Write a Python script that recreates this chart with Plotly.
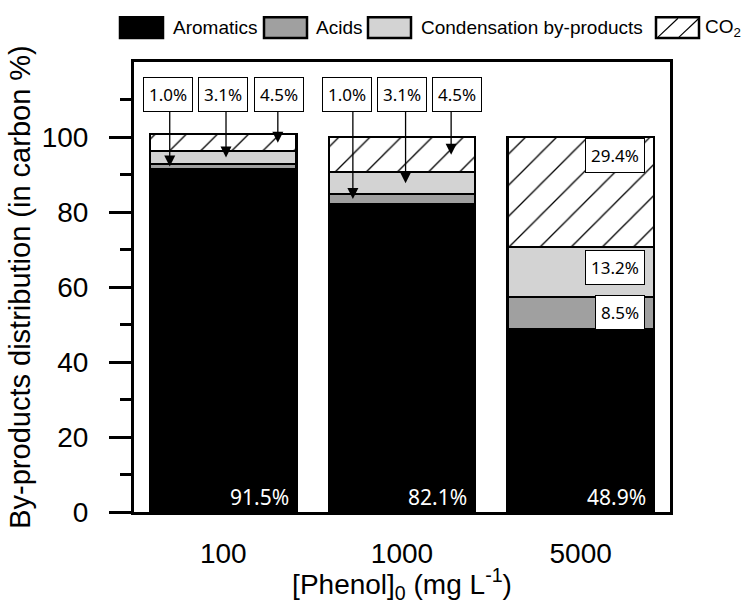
import plotly.graph_objects as go

categories = ["100", "1000", "5000"]
aromatics = [91.5, 82.1, 48.9]
acids = [1.3, 2.7, 8.5]
condensation = [3.5, 5.8, 13.2]
co2 = [4.4, 9.4, 29.4]

aromatic_labels = ["91.5%", "82.1%", "48.9%"]
top_labels = [["1.0%", "3.1%", "4.5%"], ["1.0%", "3.1%", "4.5%"]]
inner_labels_5000 = ["8.5%", "13.2%", "29.4%"]

series_names = ["Aromatics", "Acids", "Condensation by-products", "CO<sub>2</sub>"]
series_colors = ["#000000", "#a0a0a0", "#d3d3d3", "#ffffff"]

L, T, W, H = 134, 62, 536, 452
FIG_W, FIG_H = 747, 604
BAR_W = 0.82
AX_FONT = "Liberation Sans, Arial, sans-serif"
LBL_FONT = "Noto Sans, sans-serif"


def px_x(px):
    return (px - L) / W


def px_y(py):
    return (T + H - py) / H


xpos = list(range(len(categories)))

fig = go.Figure()
series = [aromatics, acids, condensation, co2]
for i, (name, vals, col) in enumerate(zip(series_names, series, series_colors)):
    marker = dict(color=col, line=dict(color="black", width=2.2))
    if i == 3:
        marker["pattern"] = dict(shape="/", fgcolor="black", bgcolor="white",
                                 size=22, solidity=0.06, fillmode="replace")
    fig.add_trace(go.Bar(x=xpos, y=vals, name=name, marker=marker,
                         width=BAR_W, showlegend=False, hoverinfo="skip"))

annotations = []
# aromatic labels (white, bottom-right inside bar)
for i, t in enumerate(aromatic_labels):
    annotations.append(dict(x=xpos[i] + BAR_W / 2, y=0, xref="x", yref="y", text=t,
                            showarrow=False, xanchor="right", yanchor="bottom",
                            xshift=-6, yshift=-1,
                            font=dict(family=LBL_FONT, size=21, color="white")))

# boxed labels with arrows for first two bars
box_dx = [-0.31, 0.0, 0.31]
arrow_dx = [[-0.30, 0.015, 0.305], [-0.275, 0.02, 0.275]]
BOX_Y = 111.3
BOX_BOTTOM = BOX_Y - 4.1
line_x, line_y, tip_x, tip_y = [], [], [], []
for b in range(2):
    bases = [aromatics[b], aromatics[b] + acids[b],
             aromatics[b] + acids[b] + condensation[b]]
    segs = [acids[b], condensation[b], co2[b]]
    for k in range(3):
        annotations.append(dict(x=xpos[b] + box_dx[k], y=BOX_Y, xref="x", yref="y",
                                text=top_labels[b][k], showarrow=False,
                                bgcolor="white", bordercolor="black",
                                borderwidth=1, borderpad=5,
                                font=dict(family=LBL_FONT, size=17, color="black")))
        tip = bases[k] + segs[k] / 2
        ax = xpos[b] + arrow_dx[b][k]
        line_x += [ax, ax, None]
        line_y += [BOX_BOTTOM, tip + 1.0, None]
        tip_x.append(ax)
        tip_y.append(tip)

fig.add_trace(go.Scatter(x=line_x, y=line_y, mode="lines",
                         line=dict(color="black", width=1.3),
                         showlegend=False, hoverinfo="skip"))
fig.add_trace(go.Scatter(x=tip_x, y=tip_y, mode="markers",
                         marker=dict(symbol="arrow-down", size=11, color="black",
                                     line=dict(width=0)),
                         showlegend=False, hoverinfo="skip"))

# boxed labels inside third bar
b = 2
pos3 = [aromatics[b] + acids[b] / 2,
        aromatics[b] + acids[b] + condensation[b] / 2 + 1.2,
        aromatics[b] + acids[b] + condensation[b] + co2[b] - 4.8]
for k in range(3):
    annotations.append(dict(x=xpos[b] + BAR_W / 2, y=pos3[k], xref="x", yref="y",
                            text=inner_labels_5000[k], showarrow=False,
                            xanchor="right", xshift=-9,
                            bgcolor="white", bordercolor="black",
                            borderwidth=1, borderpad=5,
                            font=dict(family=LBL_FONT, size=17, color="black")))

# custom legend
shapes = []
leg_boxes = [(120, 163), (264, 307), (368, 411), (656, 699)]
leg_text_x = [171, 314, 419, 703]
LY0, LY1 = 17, 38
for i, ((x0, x1), tx) in enumerate(zip(leg_boxes, leg_text_x)):
    shapes.append(dict(type="rect", xref="paper", yref="paper",
                       x0=px_x(x0), x1=px_x(x1), y0=px_y(LY1), y1=px_y(LY0),
                       fillcolor=series_colors[i],
                       line=dict(color="black", width=2.5), layer="above"))
    annotations.append(dict(x=px_x(tx), y=px_y((LY0 + LY1) / 2), xref="paper",
                            yref="paper", text=series_names[i], showarrow=False,
                            xanchor="left", yanchor="middle",
                            font=dict(family=AX_FONT, size=19, color="black")))
# hatch lines in CO2 legend box
for (hx0, hx1) in [(658, 678), (679, 699)]:
    shapes.append(dict(type="line", xref="paper", yref="paper",
                       x0=px_x(hx0), y0=px_y(LY1 - 1), x1=px_x(hx1), y1=px_y(LY0 + 1),
                       line=dict(color="black", width=1.2), layer="above"))

fig.update_layout(
    barmode="stack",
    width=FIG_W, height=FIG_H,
    margin=dict(l=L, r=FIG_W - L - W, t=T, b=FIG_H - T - H, pad=0),
    plot_bgcolor="white", paper_bgcolor="white",
    annotations=annotations, shapes=shapes,
    showlegend=False,
    font=dict(family=AX_FONT, color="black"),
)
fig.update_xaxes(
    range=[-0.5, 2.5], tickvals=xpos, ticktext=categories,
    showline=True, linecolor="black", linewidth=3, mirror=True,
    ticks="", showgrid=False, zeroline=False,
    tickfont=dict(family=AX_FONT, size=28, color="black"),
    ticklabelstandoff=14,
    title=dict(text="[Phenol]<sub>0</sub> (mg L<sup>-1</sup>)",
               font=dict(family=AX_FONT, size=28, color="black"), standoff=4),
)
fig.update_yaxes(
    range=[0, 120], tickvals=[0, 20, 40, 60, 80, 100],
    showline=True, linecolor="black", linewidth=3, mirror=True,
    ticks="outside", ticklen=22, tickwidth=3, tickcolor="black",
    minor=dict(tickvals=[10, 30, 50, 70, 90, 110], ticks="outside",
               ticklen=11, tickwidth=3, tickcolor="black"),
    showgrid=False, zeroline=False,
    tickfont=dict(family=AX_FONT, size=28, color="black"),
    ticklabelstandoff=15,
    title=dict(text="By-products distribution (in carbon %)",
               font=dict(family=AX_FONT, size=29, color="black"), standoff=3),
)

fig.write_html("out.html")
